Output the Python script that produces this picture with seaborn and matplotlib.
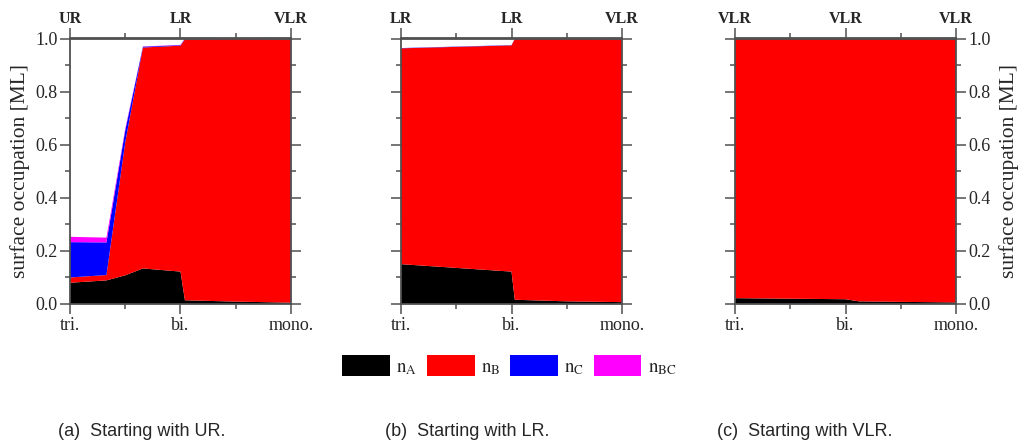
import numpy as np
import pandas as pd
import matplotlib
matplotlib.use("Agg")
import matplotlib.pyplot as plt
import seaborn as sns
from matplotlib.ticker import MultipleLocator, FixedLocator, FormatStrFormatter

# ---------------- data ----------------
species = ["n_A", "n_B", "n_C", "n_BC"]
species_labels = [r"$\mathrm{n}_{\mathrm{A}}$", r"$\mathrm{n}_{\mathrm{B}}$",
                  r"$\mathrm{n}_{\mathrm{C}}$", r"$\mathrm{n}_{\mathrm{BC}}$"]
colors = ["#000000", "#ff0000", "#0000ff", "#ff00ff"]

bottom_ticks = [0, 1, 2]
bottom_labels = ["tri.", "bi.", "mono."]
y_ticks = [0.0, 0.2, 0.4, 0.6, 0.8, 1.0]

# (a) starting with UR
top_labels_a = ["UR", "LR", "VLR"]
x_a = [0.0, 0.33, 0.50, 0.66, 1.00, 1.04, 1.50, 2.00]
nA_a = [0.080, 0.089, 0.108, 0.134, 0.122, 0.014, 0.009, 0.005]
nB_a = [0.020, 0.020, 0.501, 0.832, 0.851, 0.983, 0.989, 0.992]
nC_a = [0.133, 0.123, 0.045, 0.003, 0.002, 0.002, 0.001, 0.003]
nBC_a = [0.020, 0.018, 0.006, 0.001, 0.001, 0.001, 0.001, 0.000]

# (b) starting with LR
top_labels_b = ["LR", "LR", "VLR"]
x_b = [0.0, 1.00, 1.03, 1.50, 2.00]
nA_b = [0.150, 0.122, 0.016, 0.010, 0.007]
nB_b = [0.813, 0.852, 0.982, 0.989, 0.990]
nC_b = [0.001, 0.001, 0.001, 0.001, 0.003]
nBC_b = [0.000, 0.000, 0.001, 0.000, 0.000]

# (c) starting with VLR
top_labels_c = ["VLR", "VLR", "VLR"]
x_c = [0.0, 1.00, 1.12, 1.50, 2.00]
nA_c = [0.022, 0.018, 0.010, 0.008, 0.006]
nB_c = [0.978, 0.982, 0.990, 0.991, 0.991]
nC_c = [0.000, 0.000, 0.000, 0.001, 0.003]
nBC_c = [0.000, 0.000, 0.000, 0.000, 0.000]

captions = ["(a)  Starting with UR.", "(b)  Starting with LR.", "(c)  Starting with VLR."]

# ---------------- style ----------------
sns.set_theme(style="ticks")
plt.rcParams["font.family"] = ["Liberation Serif", "DejaVu Serif"]
plt.rcParams["mathtext.fontset"] = "stix"
spine_col = "#505050"

fig = plt.figure(figsize=(10.23, 4.41), dpi=100)
W, H = 1023.0, 441.0
ax_left_px = [70, 401, 735]
ax_w_px = 221
ax_top_px, ax_bot_px = 38.5, 304

panels = [
    (x_a, [nA_a, nB_a, nC_a, nBC_a], top_labels_a),
    (x_b, [nA_b, nB_b, nC_b, nBC_b], top_labels_b),
    (x_c, [nA_c, nB_c, nC_c, nBC_c], top_labels_c),
]

handles = None
for i, (xs, ys, tl) in enumerate(panels):
    ax = fig.add_axes([ax_left_px[i] / W, (H - ax_bot_px) / H,
                       ax_w_px / W, (ax_bot_px - ax_top_px) / H])
    polys = ax.stackplot(xs, *ys, colors=colors, labels=species_labels,
                         linewidth=0, edgecolor="none")
    if handles is None:
        handles = polys
    ax.set_xlim(0, 2)
    ax.set_ylim(0, 1.0)
    ax.xaxis.set_major_locator(FixedLocator(bottom_ticks))
    ax.xaxis.set_minor_locator(MultipleLocator(0.5))
    ax.set_xticklabels(bottom_labels)
    ax.yaxis.set_major_locator(FixedLocator(y_ticks))
    ax.yaxis.set_minor_locator(FixedLocator([0.1, 0.3, 0.5, 0.7, 0.9]))
    ax.yaxis.set_major_formatter(FormatStrFormatter("%.1f"))
    for s in ax.spines.values():
        s.set_visible(True)
        s.set_color(spine_col)
        s.set_linewidth(1.3)
    ax.tick_params(axis="both", which="both", direction="out", color=spine_col,
                   width=1.1, labelsize=13, pad=2)
    ax.tick_params(axis="both", which="major", length=7)
    ax.tick_params(axis="both", which="minor", length=3.5)
    ax.tick_params(axis="y", which="both", left=True, right=True)
    if i == 0:
        ax.tick_params(axis="y", labelleft=True, labelright=False)
        ax.set_ylabel("surface occupation [ML]", fontsize=15.5, labelpad=4)
    elif i == 1:
        ax.tick_params(axis="y", labelleft=False, labelright=False)
    else:
        ax.tick_params(axis="y", labelleft=False, labelright=True)
        ax.yaxis.set_label_position("right")
        ax.set_ylabel("surface occupation [ML]", fontsize=15.5, labelpad=6, rotation=90)
    ax.set_xlabel("")
    sec = ax.secondary_xaxis("top")
    sec.xaxis.set_major_locator(FixedLocator(bottom_ticks))
    sec.xaxis.set_minor_locator(MultipleLocator(0.5))
    sec.set_xticklabels(tl, fontweight="bold", fontsize=11.5)
    sec.spines["top"].set_color(spine_col)
    sec.spines["top"].set_linewidth(1.3)
    sec.tick_params(axis="x", which="both", direction="out", color=spine_col,
                    width=1.1, pad=1)
    sec.tick_params(axis="x", which="major", length=7)
    sec.tick_params(axis="x", which="minor", length=3.5)

leg = fig.legend(handles=handles, labels=species_labels, loc="center left",
                 bbox_to_anchor=(342 / W, (H - 366) / H), ncol=4, frameon=False,
                 fontsize=13.5, handlelength=2.55, handleheight=1.3,
                 handletextpad=0.35, columnspacing=0.5, borderpad=0,
                 borderaxespad=0)

cap_x = [142, 467, 805]
for cx, cap in zip(cap_x, captions):
    fig.text(cx / W, (H - 431) / H, cap, ha="center", va="center",
             fontsize=13, family=["Liberation Sans", "DejaVu Sans"])

fig.savefig("out.png", dpi=100)
